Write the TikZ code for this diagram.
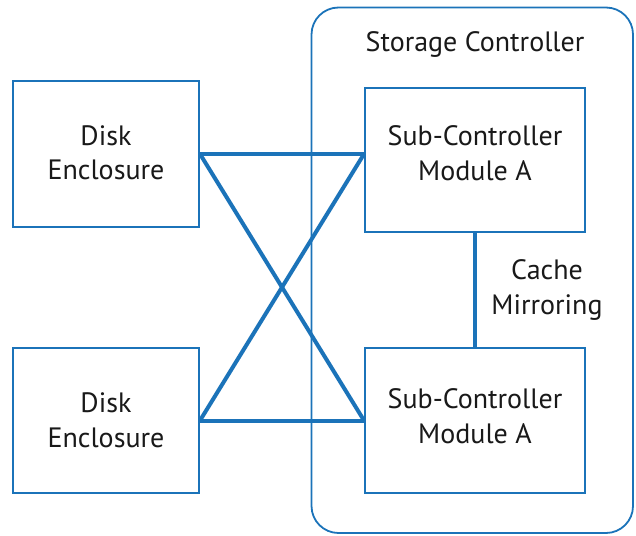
\documentclass[tikz,border=0pt]{standalone}
\usepackage{fontspec}
\setmainfont{PT Sans}
\definecolor{lineblue}{RGB}{27,115,185}
\begin{document}
\begin{tikzpicture}[x=1pt,y=-1pt,
  box/.style={draw=lineblue,line width=2pt,inner sep=0pt,fill=white},
  lbl/.style={align=center,font=\fontsize{28}{34.5}\selectfont,text=black!90,inner sep=0pt},
  link/.style={draw=lineblue,line width=4pt}]
\useasboundingbox (0,0) rectangle (636,535);
\draw[draw=lineblue,line width=1.8pt,rounded corners=27pt] (311.5,7.5) rectangle (633,533);
\node[lbl] (title) at (475,45) {Storage Controller};
\node[box,minimum width=186pt,minimum height=146pt] (disk1) at (106,154) {};
\node[box,minimum width=186pt,minimum height=145pt] (disk2) at (106,420.5) {};
\node[box,minimum width=220pt,minimum height=144pt] (sub1) at (475,160) {};
\node[box,minimum width=220pt,minimum height=145pt] (sub2) at (475,420.5) {};
\node[lbl] (t1) at (106,153) {Disk\\Enclosure};
\node[lbl] (t2) at (106,420) {Disk\\Enclosure};
\node[lbl] (t3) at (475,153) {Sub-Controller\\Module A};
\node[lbl] (t4) at (475,416) {Sub-Controller\\Module A};
\node[lbl] (cm) at (547,290) {Cache\\Mirroring};
\coordinate (s1in) at (sub1.west |- disk1.east);
\coordinate (d2out) at (disk2.east);
\coordinate (s2in) at (sub2.west |- disk2.east);
\draw[link] (disk1.east) -- (s1in);
\draw[link] (disk1.east) -- (s2in);
\draw[link] (d2out) -- (s1in);
\draw[link] (d2out) -- (s2in);
\draw[link] (sub1.south) -- (sub2.north);
\end{tikzpicture}
\end{document}
